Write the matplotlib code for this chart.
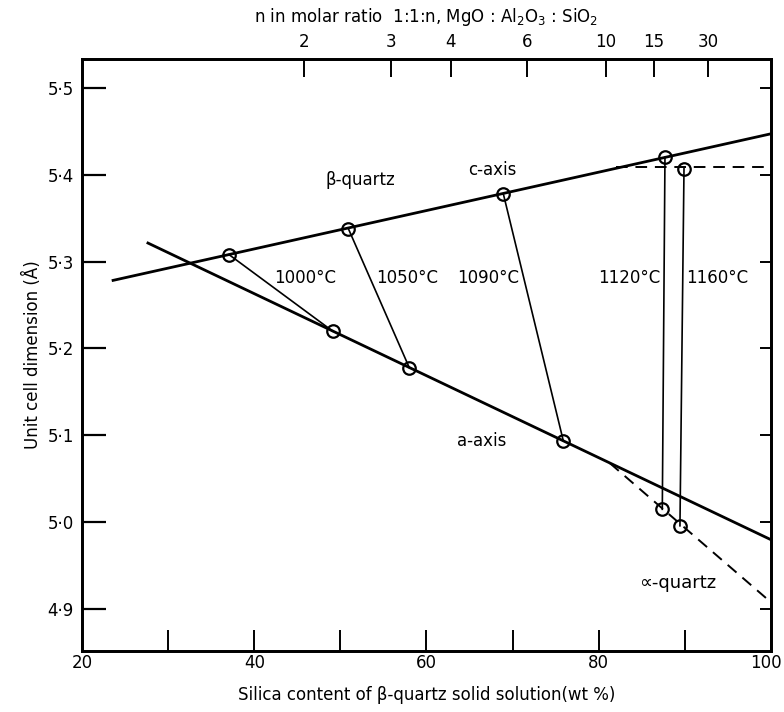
import matplotlib
matplotlib.use("Agg")
import matplotlib.pyplot as plt
import matplotlib.transforms as mtransforms
import numpy as np

plt.rcParams['font.family'] = ['DejaVu Sans']

# ---- data ----
temps = ["1000°C", "1050°C", "1090°C", "1120°C", "1160°C"]
c_x = [37.07, 50.92, 68.92, 87.69, 89.90]
c_y = [5.308, 5.338, 5.378, 5.420, 5.407]
a_x = [49.10, 58.00, 75.88, 87.38, 89.43]
a_y = [5.220, 5.178, 5.094, 5.015, 4.996]

# fitted guide lines (end points)
c_line_x = [23.45, 100.0]
c_line_y = [5.278, 5.447]
a_line_x = [27.51, 100.0]
a_line_y = [5.322, 4.980]
# alpha-quartz dashed lines
alpha_x = [81.3, 100.0]
alpha_y = [5.068, 4.908]
c_dash_x = [82.0, 100.0]
c_dash_y = [5.409, 5.409]

# top axis: n in MgO:Al2O3:nSiO2
n_ticks = [2, 3, 4, 6, 10, 15, 30]
M_SiO2 = 60.08
M_MgAl = 40.30 + 101.96

def n_to_wt(n):
    n = np.asarray(n, dtype=float)
    return 100 * M_SiO2 * n / (M_MgAl + M_SiO2 * n)

y_ticks = [4.9, 5.0, 5.1, 5.2, 5.3, 5.4, 5.5]
y_labels = ["4·9", "5·0", "5·1", "5·2", "5·3", "5·4", "5·5"]
x_ticks = [20, 30, 40, 50, 60, 70, 80, 90, 100]
x_labels = ["20", "", "40", "", "60", "", "80", "", "100"]

fig = plt.figure(figsize=(7.84, 7.12), dpi=100)
ax = fig.add_axes([0.1046, 0.0857, 0.8788, 0.8314])
ax.set_xlim(20, 100)
ax.set_ylim(4.852, 5.533)

lw_main = 2.0
lw_tie = 1.2
ax.plot(c_line_x, c_line_y, color='black', lw=lw_main, solid_capstyle='butt')
ax.plot(a_line_x, a_line_y, color='black', lw=lw_main, solid_capstyle='butt')
ax.plot(alpha_x, alpha_y, color='black', lw=1.4, linestyle=(0, (6, 4)))
ax.plot(c_dash_x, c_dash_y, color='black', lw=1.4, linestyle=(0, (6, 4)))

for cx, cy, axx, ayy in zip(c_x, c_y, a_x, a_y):
    ax.plot([cx, axx], [cy, ayy], color='black', lw=lw_tie)

ax.plot(c_x, c_y, 'o', ms=9, mfc='none', mec='black', mew=1.6)
ax.plot(a_x, a_y, 'o', ms=9, mfc='none', mec='black', mew=1.6)

fs = 12
temp_pos_x = [45.9, 57.7, 67.2, 83.6, 93.7]
for t, tx in zip(temps, temp_pos_x):
    ax.text(tx, 5.281, t, ha='center', va='center', fontsize=fs)

ax.text(52.3, 5.394, "β-quartz", ha='center', va='center', fontsize=fs)
ax.text(67.6, 5.405, "c-axis", ha='center', va='center', fontsize=fs)
ax.text(66.4, 5.093, "a-axis", ha='center', va='center', fontsize=fs)
ax.text(89.2, 4.930, "∝-quartz", ha='center', va='center', fontsize=fs + 1)

# axes styling
for s in ax.spines.values():
    s.set_linewidth(1.8)

ax.set_xticks(x_ticks)
ax.set_xticklabels(x_labels, fontsize=fs)
ax.tick_params(axis='x', which='major', direction='in', length=15, width=1.4, pad=2)
last = ax.get_xticklabels()[-1]
last.set_transform(last.get_transform() +
                   mtransforms.ScaledTranslation(-5 / 100, 0, fig.dpi_scale_trans))

ax.set_yticks(y_ticks)
ax.set_yticklabels(y_labels, fontsize=fs)
ax.tick_params(axis='y', which='major', direction='in', length=17, width=1.6, pad=6)

ax.set_xlabel("Silica content of β-quartz solid solution(wt %)", fontsize=fs, labelpad=10)
ax.set_ylabel("Unit cell dimension (Å)", fontsize=fs, labelpad=4)

# right axis with short ticks, no labels
axr = ax.twinx()
axr.set_ylim(ax.get_ylim())
axr.set_yticks(y_ticks)
axr.set_yticklabels([])
axr.tick_params(axis='y', direction='in', length=8, width=1.4)

ax2 = ax.twiny()
ax2.set_xlim(20, 100)
ax2.set_xticks(n_to_wt(n_ticks))
ax2.set_xticklabels([str(n) for n in n_ticks], fontsize=fs)
ax2.tick_params(axis='x', direction='in', length=13, width=1.4, pad=6)
ax2.set_xlabel("n in molar ratio  1:1:n, MgO : Al$_2$O$_3$ : SiO$_2$", fontsize=fs, labelpad=8)
for a in (ax2, axr):
    for s in a.spines.values():
        s.set_linewidth(1.8)

fig.savefig("out.png", dpi=100)
